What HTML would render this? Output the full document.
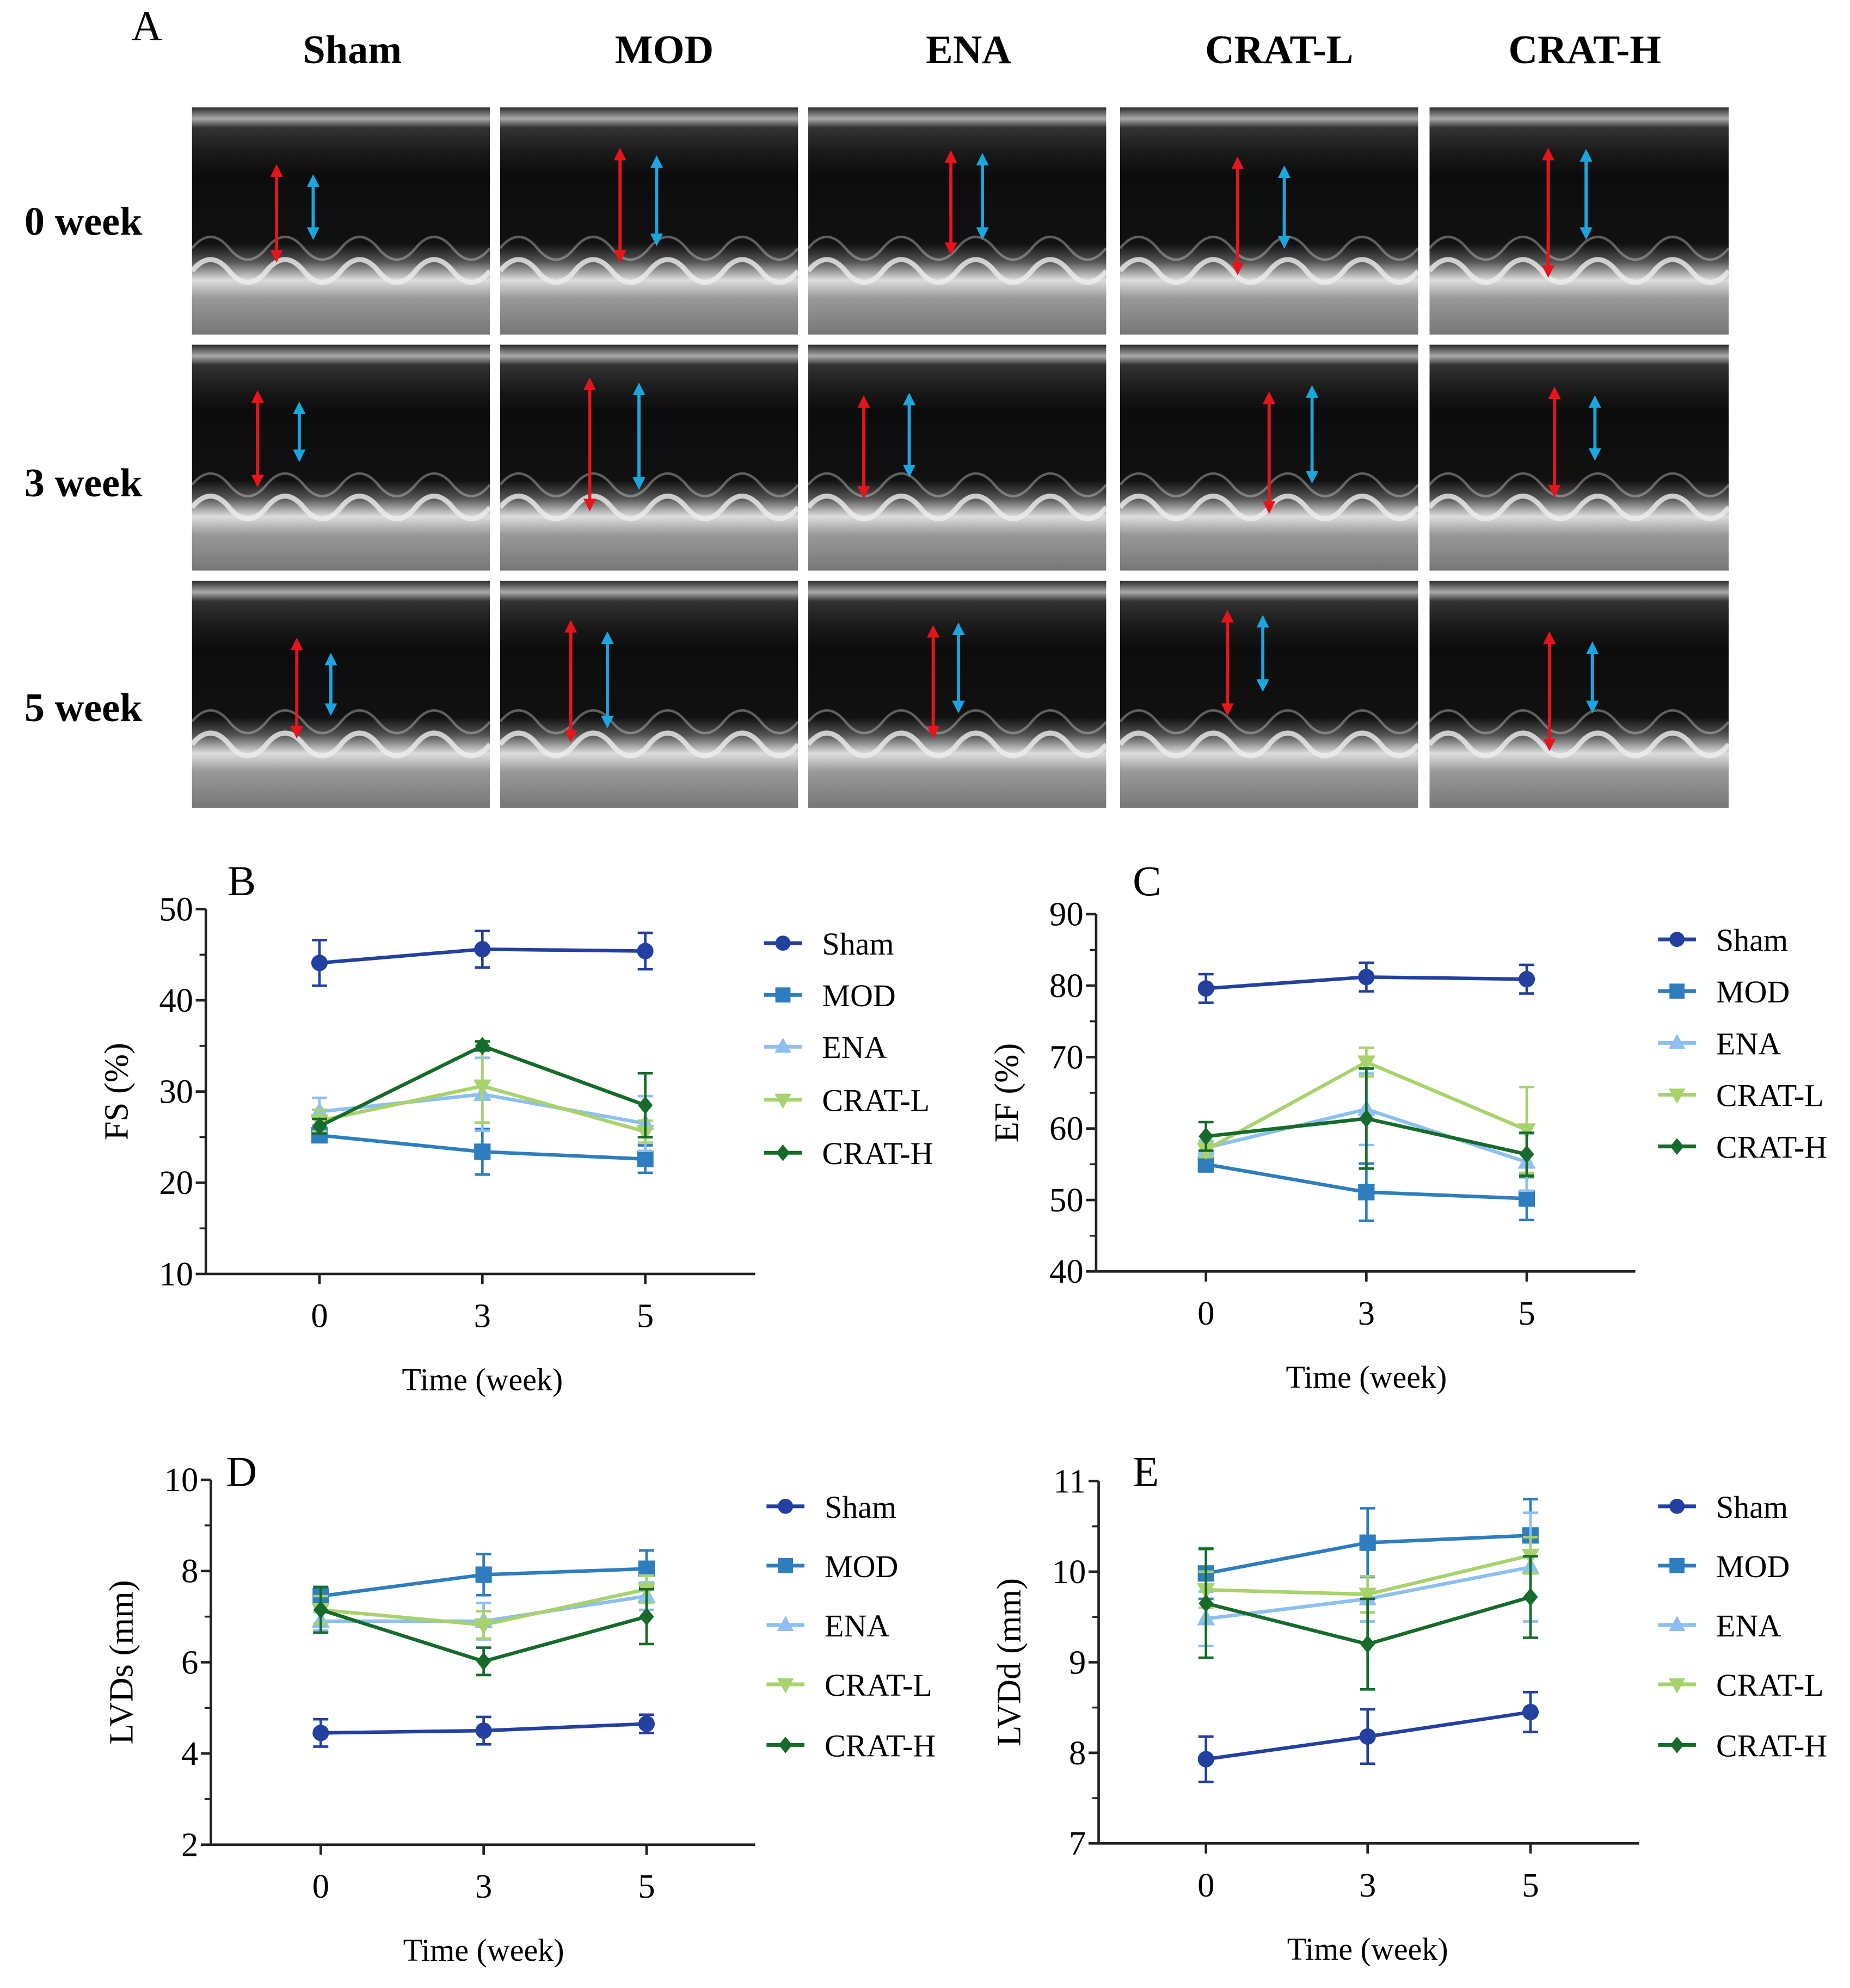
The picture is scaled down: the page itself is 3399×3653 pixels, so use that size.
<!DOCTYPE html>
<html><head><meta charset="utf-8"><style>
html,body{margin:0;padding:0;background:#fff;}
svg{display:block;font-family:"Liberation Serif",serif;}
</style></head><body>
<svg id="fig" width="3399" height="3653" viewBox="0 0 1465 1574.5" preserveAspectRatio="none" xmlns="http://www.w3.org/2000/svg">
<defs id="defs">
<linearGradient id="us" x1="0" y1="0" x2="0" y2="1">
<stop offset="0" stop-color="#2a2a2a"/><stop offset="0.05" stop-color="#aaa"/><stop offset="0.09" stop-color="#333"/>
<stop offset="0.2" stop-color="#1a1a1a"/><stop offset="0.3" stop-color="#0c0c0c"/><stop offset="0.6" stop-color="#111"/>
<stop offset="0.68" stop-color="#555"/><stop offset="0.76" stop-color="#ddd"/><stop offset="0.84" stop-color="#999"/><stop offset="1" stop-color="#777"/>
</linearGradient>
<marker id="ar" viewBox="0 0 10 10" refX="5" refY="5" markerWidth="4" markerHeight="4" orient="auto-start-reverse"><path d="M0,0L10,5L0,10z" fill="#e8141c"/></marker>
<marker id="ab" viewBox="0 0 10 10" refX="5" refY="5" markerWidth="4" markerHeight="4" orient="auto-start-reverse"><path d="M0,0L10,5L0,10z" fill="#1aa6de"/></marker>
</defs>
<g id="panelA"></g>
<g id="charts"></g>
</svg>
<script>
const NS="http://www.w3.org/2000/svg";
function mk(p,t,a,txt){const e=document.createElementNS(NS,t);for(const k in a)e.setAttribute(k,a[k]);if(txt!==undefined)e.textContent=txt;p.appendChild(e);return e;}
const A=document.getElementById('panelA');
const D=document.getElementById('defs');
const t0=mk(A,'text',{x:104,y:32,'font-size':34},'A');


const groups=["Sham","MOD","ENA","CRAT-L","CRAT-H"];
const colX=[[152,388],[396,632],[640,876],[887,1123],[1132,1369]];
const rowY=[[85,265],[273,452],[460,640]];
const rowLab=["0 week","3 week","5 week"];
const rowLabY=[186,393,571];
const colLabX=[279,526,767,1013,1255];
groups.forEach((g,i)=>{const e=mk(A,'text',{x:colLabX[i],y:50,'font-size':32,'font-weight':'bold','text-anchor':'middle'},g);

});
rowLab.forEach((r,i)=>{const e=mk(A,'text',{x:66,y:rowLabY[i],'font-size':32,'font-weight':'bold','text-anchor':'middle'},r);

});
const arrows=[
[[219,135,203,248,143,185],[491,122,203,520,128,190],[753,124,197,778,126,185],[980,129,213,1017,136,192],[1226,122,215,1256,123,185]],
[[204,314,381,237,323,361],[467,304,400,506,308,383],[684,318,390,720,316,373],[1005,315,402,1039,310,378],[1231,311,389,1263,318,360]],
[[235,510,580,262,522,562],[452,496,583,481,505,572],[739,500,580,759,498,560],[972,488,562,1000,492,543],[1227,505,590,1261,513,560]]];
let cid=0;
rowY.forEach((ry,r)=>colX.forEach((cx,c)=>{
 const h=ry[1]-ry[0],w=cx[1]-cx[0];
 const cp=mk(D,'clipPath',{id:'c'+cid});
 mk(cp,'rect',{x:cx[0],y:ry[0],width:w,height:h});
 const g=mk(A,'g',{'clip-path':'url(#c'+cid+')'});
 cid++;
 
 
 mk(g,'rect',{x:cx[0],y:ry[0],width:w,height:h,fill:'url(#us)'});
 [[0.72,4,0.8],[0.62,2,0.35]].forEach(([f,sw,op])=>{
  let d='M'+cx[0]+','+(ry[0]+h*f);
  for(let k=0;k<4;k++){const x=cx[0]+k*w/4;d+=' Q'+(x+w/16)+','+(ry[0]+h*(f-0.1))+' '+(x+w/8)+','+(ry[0]+h*f)+' T'+(x+w/4)+','+(ry[0]+h*f);}
  mk(g,'path',{d:d,stroke:'#eee',fill:'none','stroke-width':sw,opacity:op});
 });
 const a=arrows[r][c];
 mk(g,'line',{x1:a[0],y1:a[1],x2:a[0],y2:a[2],stroke:'#e8141c','stroke-width':2.5,'marker-start':'url(#ar)','marker-end':'url(#ar)'});
 mk(g,'line',{x1:a[3],y1:a[4],x2:a[3],y2:a[5],stroke:'#1aa6de','stroke-width':2.5,'marker-start':'url(#ab)','marker-end':'url(#ab)'});
}));

// ---- chart data ----
const categories=["0","3","5"];
const seriesNames=["Sham","MOD","ENA","CRAT-L","CRAT-H"];
const fsVals=[[44.1,45.6,45.4],[25.2,23.4,22.6],[27.8,29.7,26.5],[26.8,30.6,25.6],[26.2,35.0,28.5]];
const fsErr=[[2.5,2,2],[0.6,2.5,1.5],[1.5,4,3],[1.2,4,1.2],[0.8,0.5,3.5]];
const efVals=[[79.6,81.2,80.9],[55.0,51.1,50.2],[57.3,62.7,55.3],[57.0,69.3,59.8],[58.9,61.4,56.4]];
const efErr=[[2,2,2],[1,4,3],[1,5,4],[1,2,6],[2,7,3]];
const lvdsVals=[[4.45,4.5,4.65],[7.45,7.92,8.05],[6.9,6.9,7.45],[7.15,6.82,7.6],[7.15,6.02,7.0]];
const lvdsErr=[[0.3,0.3,0.2],[0.2,0.45,0.4],[0.2,0.4,0.3],[0.3,0.3,0.3],[0.5,0.3,0.6]];
const lvddVals=[[7.93,8.18,8.45],[9.98,10.32,10.4],[9.48,9.7,10.05],[9.8,9.75,10.18],[9.65,9.2,9.72]];
const lvddErr=[[0.25,0.3,0.22],[0.28,0.38,0.4],[0.3,0.25,0.6],[0.2,0.2,0.2],[0.6,0.5,0.45]];
const fsTicks=[10,20,30,40,50];
const efTicks=[40,50,60,70,80,90];
const lvdsTicks=[2,4,6,8,10];
const lvddTicks=[7,8,9,10,11];
const colors=["#2340a0","#2e7dbf","#8dbff0","#a8d26c","#176b2a"];
const markers=["circle","square","up","down","diamond"];

const C=document.getElementById('charts');
function marker(p,type,x,y,col,s){
 let e;
 if(type==='circle')e=mk(p,'circle',{cx:x,cy:y,r:s,fill:col});
 else if(type==='square')e=mk(p,'rect',{x:x-s,y:y-s,width:2*s,height:2*s,fill:col});
 else if(type==='up')e=mk(p,'polygon',{points:`${x},${y-s*1.2} ${x+s*1.1},${y+s*0.8} ${x-s*1.1},${y+s*0.8}`,fill:col});
 else if(type==='down')e=mk(p,'polygon',{points:`${x},${y+s*1.2} ${x+s*1.1},${y-s*0.8} ${x-s*1.1},${y-s*0.8}`,fill:col});
 else e=mk(p,'polygon',{points:`${x},${y-s*1.1} ${x+s*0.9},${y} ${x},${y+s*1.1} ${x-s*0.9},${y}`,fill:col});
 return e;
}
function chart(cfg){
 const g=mk(C,'g',{});
 
 
 const ticks=cfg.ticks,ymin=ticks[0],ymax=ticks[ticks.length-1];
 const ys=v=>cfg.y1+(ymax-v)/(ymax-ymin)*(cfg.y0-cfg.y1);
 const xs=i=>cfg.xt[i];
 const lab=mk(g,'text',{x:cfg.lx,y:cfg.ly,'font-size':34},cfg.letter);
 
 
 const ax=mk(g,'g',{});
 
 
 mk(ax,'line',{x1:cfg.ax,y1:cfg.y1,x2:cfg.ax,y2:cfg.y0,stroke:'#222','stroke-width':2});
 ticks.forEach((t,i)=>{const y=ys(t);mk(ax,'line',{x1:cfg.ax-8,y1:y,x2:cfg.ax,y2:y,stroke:'#222','stroke-width':2});
  const tl=mk(ax,'text',{x:cfg.ax-10,y:y+9,'font-size':27,'text-anchor':'end'},String(t));
  
  
  if(i<ticks.length-1){const ym=ys((t+ticks[i+1])/2);mk(ax,'line',{x1:cfg.ax-5,y1:ym,x2:cfg.ax,y2:ym,stroke:'#222','stroke-width':1.5});}});
 const yt=mk(g,'text',{x:0,y:0,'font-size':27,'text-anchor':'middle',transform:`translate(${cfg.ax-62},${(cfg.y0+cfg.y1)/2}) rotate(-90)`},cfg.ytitle);
 
 
 const xa=mk(g,'g',{});
 
 
 mk(xa,'line',{x1:cfg.ax,y1:cfg.y0,x2:cfg.xe,y2:cfg.y0,stroke:'#222','stroke-width':2});
 categories.forEach((c,i)=>{mk(xa,'line',{x1:xs(i),y1:cfg.y0,x2:xs(i),y2:cfg.y0+8,stroke:'#222','stroke-width':2});
  const tl=mk(xa,'text',{x:xs(i),y:cfg.y0+42,'font-size':27,'text-anchor':'middle'},c);
  
  });
 const xt=mk(g,'text',{x:xs(1),y:cfg.y0+92,'font-size':25,'text-anchor':'middle'},'Time (week)');
 
 
 cfg.vals.forEach((vs,s)=>{
  const sg=mk(g,'g',{});
  
  
  const col=colors[s];
  vs.forEach((v,i)=>{const e=cfg.err[s][i],x=xs(i);
   mk(sg,'line',{x1:x,y1:ys(v-e),x2:x,y2:ys(v+e),stroke:col,'stroke-width':2});
   mk(sg,'line',{x1:x-6,y1:ys(v-e),x2:x+6,y2:ys(v-e),stroke:col,'stroke-width':2});
   mk(sg,'line',{x1:x-6,y1:ys(v+e),x2:x+6,y2:ys(v+e),stroke:col,'stroke-width':2});});
  mk(sg,'polyline',{points:vs.map((v,i)=>xs(i)+','+ys(v)).join(' '),fill:'none',stroke:col,'stroke-width':2.8});
  vs.forEach((v,i)=>{const m=marker(sg,markers[s],xs(i),ys(v),col,6.5);
   
   });
 });
 const lg=mk(g,'g',{});
 
 
 seriesNames.forEach((n,s)=>{const y=cfg.legY[s];
  const le=mk(lg,'g',{});
  
  
  mk(le,'line',{x1:cfg.legX,y1:y,x2:cfg.legX+30,y2:y,stroke:colors[s],'stroke-width':3});
  marker(le,markers[s],cfg.legX+15,y,colors[s],6);
  mk(le,'text',{x:cfg.legX+46,y:y+9,'font-size':25},n);});
}
chart({name:'chart-b-fs',letter:'B',lx:180,ly:709,ax:163,y1:720,y0:1009,xe:598,xt:[253,382,511],ticks:fsTicks,vals:fsVals,err:fsErr,ytitle:'FS (%)',legX:605,legY:[747,788,829,871,913]});
chart({name:'chart-c-ef',letter:'C',lx:897,ly:709,ax:868,y1:724,y0:1007,xe:1295,xt:[955,1082,1209],ticks:efTicks,vals:efVals,err:efErr,ytitle:'EF (%)',legX:1313,legY:[744,785,826,867,908]});
chart({name:'chart-d-lvds',letter:'D',lx:179,ly:1177,ax:167,y1:1172,y0:1461,xe:598,xt:[254,383,512],ticks:lvdsTicks,vals:lvdsVals,err:lvdsErr,ytitle:'LVDs (mm)',legX:607,legY:[1193,1240,1287,1334,1382]});
chart({name:'chart-e-lvdd',letter:'E',lx:897,ly:1177,ax:870,y1:1173,y0:1460,xe:1298,xt:[955,1083,1212],ticks:lvddTicks,vals:lvddVals,err:lvddErr,ytitle:'LVDd (mm)',legX:1313,legY:[1193,1240,1287,1334,1382]});
</script>
</body></html>
